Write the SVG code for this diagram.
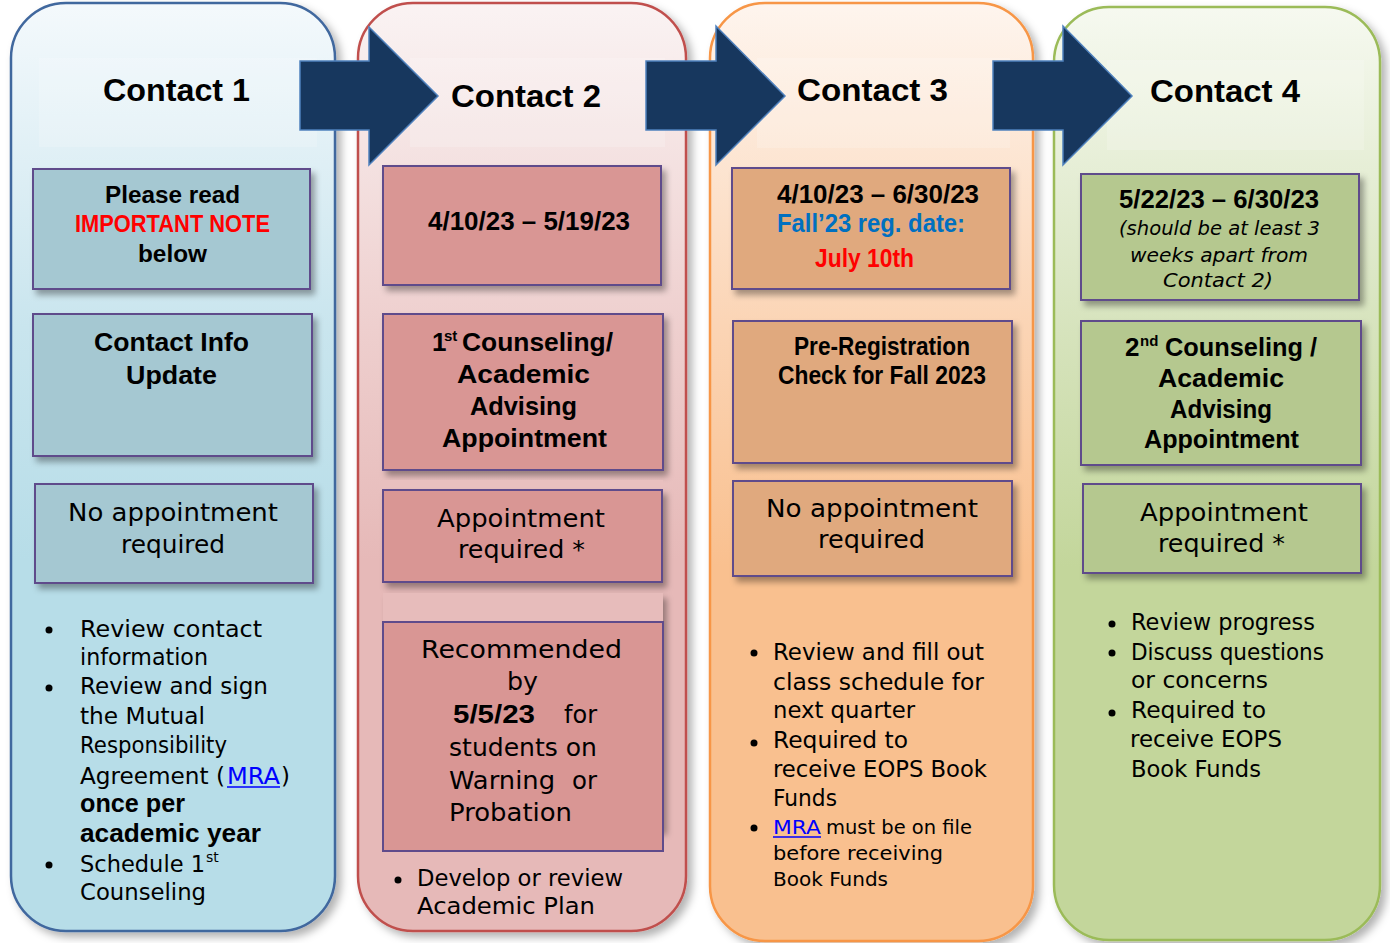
<svg xmlns="http://www.w3.org/2000/svg" width="1390" height="943" viewBox="0 0 1390 943">
<defs>
<linearGradient id="g1" x1="0" y1="0" x2="0" y2="1"><stop offset="0" stop-color="#f4f9fc"/><stop offset="0.35" stop-color="#c9e5ee"/><stop offset="0.6" stop-color="#b7dde8"/></linearGradient>
<linearGradient id="g2" x1="0" y1="0" x2="0" y2="1"><stop offset="0" stop-color="#faf3f3"/><stop offset="0.35" stop-color="#eecfce"/><stop offset="0.6" stop-color="#e6b9b8"/></linearGradient>
<linearGradient id="g3" x1="0" y1="0" x2="0" y2="1"><stop offset="0" stop-color="#fef5ee"/><stop offset="0.35" stop-color="#fbd4b4"/><stop offset="0.6" stop-color="#f9c08f"/></linearGradient>
<linearGradient id="g4" x1="0" y1="0" x2="0" y2="1"><stop offset="0" stop-color="#f6f9f0"/><stop offset="0.35" stop-color="#d6e3bc"/><stop offset="0.6" stop-color="#c3d69b"/></linearGradient>
<filter id="sh" x="-10%" y="-10%" width="130%" height="130%"><feDropShadow dx="4" dy="5" stdDeviation="3" flood-color="#000" flood-opacity="0.35"/></filter>
<filter id="csh" x="-10%" y="-5%" width="130%" height="115%"><feDropShadow dx="5" dy="5" stdDeviation="4" flood-color="#000" flood-opacity="0.3"/></filter>
</defs>
<style>
.b{font-family:"Liberation Sans",Arial,sans-serif;font-weight:bold;fill:#000}
.r{font-family:"DejaVu Sans","Liberation Sans",sans-serif;fill:#000}
.h{font-size:32px}
.bx{stroke:#5f4b8b;stroke-width:2}
.c1{fill:#a5c8d2}.c2{fill:#d99694}.c3{fill:#e0a97e}.c4{fill:#b5c88f}
.band{fill:#ffffff;opacity:0.18}
.arrow{fill:#17375e;stroke:#4f81bd;stroke-width:1.5}
.link{fill:#0000ff}
</style>

<g id="column1">
<rect x="11" y="3" width="324" height="928" rx="55" fill="url(#g1)" stroke="#41679e" stroke-width="2.5" filter="url(#csh)"/>
<rect class="band" x="39" y="58" width="278" height="89"/>
<text class="b h" x="103" y="101" textLength="147" lengthAdjust="spacingAndGlyphs">Contact 1</text>
</g>
<g id="column2">
<rect x="358" y="3" width="328" height="928" rx="55" fill="url(#g2)" stroke="#c0504d" stroke-width="2.5" filter="url(#csh)"/>
<rect class="band" x="410" y="58" width="255" height="89"/>
<text class="b h" x="451" y="107" textLength="150" lengthAdjust="spacingAndGlyphs">Contact 2</text>
</g>
<g id="column3">
<rect x="710" y="3" width="323" height="938" rx="55" fill="url(#g3)" stroke="#f79646" stroke-width="2.5" filter="url(#csh)"/>
<rect class="band" x="757" y="58" width="253" height="90"/>
<text class="b h" x="797" y="101" textLength="151" lengthAdjust="spacingAndGlyphs">Contact 3</text>
</g>
<g id="column4">
<rect x="1054" y="7" width="326" height="933" rx="55" fill="url(#g4)" stroke="#9bbb59" stroke-width="2.5" filter="url(#csh)"/>
<rect class="band" x="1107" y="60" width="257" height="90"/>
<text class="b h" x="1150" y="102" textLength="150" lengthAdjust="spacingAndGlyphs">Contact 4</text>
</g>

<g id="connectors">
<path class="arrow" d="M300,61 H369 V27 L438,96 L369,165 V130 H300 Z"/>
<path class="arrow" d="M646,61 H716 V26 L785,96 L716,165 V130 H646 Z"/>
<path class="arrow" d="M993,61 H1063 V26 L1132,96 L1063,165 V130 H993 Z"/>
</g>

<!-- Column 1 nodes -->
<g id="c1-dates">
<rect class="bx c1" x="33" y="169" width="277" height="120" filter="url(#sh)"/>
<text class="b" font-size="24" x="105" y="203" textLength="135" lengthAdjust="spacingAndGlyphs">Please read</text>
<text class="b" font-size="24" x="75" y="232" textLength="195" lengthAdjust="spacingAndGlyphs" style="fill:#ff0000">IMPORTANT NOTE</text>
<text class="b" font-size="24" x="138" y="262" textLength="69" lengthAdjust="spacingAndGlyphs">below</text>
</g>
<g id="c1-title">
<rect class="bx c1" x="33" y="314" width="279" height="142" filter="url(#sh)"/>
<text class="b" font-size="26" x="94" y="351" textLength="155" lengthAdjust="spacingAndGlyphs">Contact Info</text>
<text class="b" font-size="26" x="126" y="384" textLength="91" lengthAdjust="spacingAndGlyphs">Update</text>
</g>
<g id="c1-appt">
<rect class="bx c1" x="35" y="484" width="278" height="99" filter="url(#sh)"/>
<text class="r" font-size="24" x="68" y="521" textLength="210" lengthAdjust="spacingAndGlyphs">No appointment</text>
<text class="r" font-size="24" x="121" y="553" textLength="104" lengthAdjust="spacingAndGlyphs">required</text>
</g>
<g id="c1-notes">
<circle cx="49" cy="630" r="3.5"/><circle cx="49" cy="688" r="3.5"/><circle cx="49" cy="865" r="3.5"/>
<text class="r" font-size="23" x="80" y="637" textLength="182" lengthAdjust="spacingAndGlyphs">Review contact</text>
<text class="r" font-size="23" x="80" y="665" textLength="128" lengthAdjust="spacingAndGlyphs">information</text>
<text class="r" font-size="23" x="80" y="694" textLength="188" lengthAdjust="spacingAndGlyphs">Review and sign</text>
<text class="r" font-size="23" x="80" y="724" textLength="125" lengthAdjust="spacingAndGlyphs">the Mutual</text>
<text class="r" font-size="23" x="80" y="753" textLength="147" lengthAdjust="spacingAndGlyphs">Responsibility</text>
<text class="r" font-size="23" x="80" y="784" textLength="145" lengthAdjust="spacingAndGlyphs">Agreement (</text>
<text class="r link" font-size="23" x="227" y="784" textLength="53" lengthAdjust="spacingAndGlyphs">MRA</text>
<line x1="227" y1="787" x2="280" y2="787" stroke="#0000ff" stroke-width="1.5"/>
<text class="r" font-size="23" x="281" y="784">)</text>
<text class="b" font-size="25" x="80" y="812" textLength="105" lengthAdjust="spacingAndGlyphs">once per</text>
<text class="b" font-size="25" x="80" y="842" textLength="181" lengthAdjust="spacingAndGlyphs">academic year</text>
<text class="r" font-size="23" x="80" y="872" textLength="125" lengthAdjust="spacingAndGlyphs">Schedule 1</text>
<text class="r" font-size="14" x="206" y="862">st</text>
<text class="r" font-size="23" x="80" y="900" textLength="126" lengthAdjust="spacingAndGlyphs">Counseling</text>
</g>

<!-- Column 2 nodes -->
<g id="c2-dates">
<rect class="bx c2" x="383" y="166" width="278" height="119" filter="url(#sh)"/>
<text class="b" font-size="25" x="428" y="230" textLength="202" lengthAdjust="spacingAndGlyphs">4/10/23 – 5/19/23</text>
</g>
<g id="c2-title">
<rect class="bx c2" x="383" y="314" width="280" height="156" filter="url(#sh)"/>
<text class="b" font-size="26" x="432" y="351">1</text>
<text class="b" font-size="15" x="444" y="341">st</text>
<text class="b" font-size="26" x="462" y="351" textLength="151" lengthAdjust="spacingAndGlyphs">Counseling/</text>
<text class="b" font-size="26" x="457" y="383" textLength="133" lengthAdjust="spacingAndGlyphs">Academic</text>
<text class="b" font-size="26" x="470" y="415" textLength="107" lengthAdjust="spacingAndGlyphs">Advising</text>
<text class="b" font-size="26" x="442" y="447" textLength="165" lengthAdjust="spacingAndGlyphs">Appointment</text>
</g>
<g id="c2-appt">
<rect x="383" y="480" width="280" height="10" fill="#e9c0bf"/>
<rect class="bx c2" x="383" y="490" width="279" height="92" filter="url(#sh)"/>
<text class="r" font-size="24" x="437" y="527" textLength="168" lengthAdjust="spacingAndGlyphs">Appointment</text>
<text class="r" font-size="24" x="458" y="558" textLength="127" lengthAdjust="spacingAndGlyphs">required *</text>
</g>
<g id="c2-recommended">
<rect x="383" y="593" width="280" height="237" fill="#e7bcbb" filter="url(#sh)"/>
<rect class="bx c2" x="383" y="622" width="280" height="229"/>
<text class="r" font-size="24" x="421" y="658" textLength="201" lengthAdjust="spacingAndGlyphs">Recommended</text>
<text class="r" font-size="24" x="507" y="690" textLength="31" lengthAdjust="spacingAndGlyphs">by</text>
<text class="b" font-size="26" x="453" y="723" textLength="82" lengthAdjust="spacingAndGlyphs">5/5/23</text>
<text class="r" font-size="24" x="564" y="723" textLength="33" lengthAdjust="spacingAndGlyphs">for</text>
<text class="r" font-size="24" x="449" y="756" textLength="148" lengthAdjust="spacingAndGlyphs">students on</text>
<text class="r" font-size="24" x="449" y="789" textLength="106" lengthAdjust="spacingAndGlyphs">Warning</text>
<text class="r" font-size="24" x="572" y="789" textLength="25" lengthAdjust="spacingAndGlyphs">or</text>
<text class="r" font-size="24" x="449" y="821" textLength="123" lengthAdjust="spacingAndGlyphs">Probation</text>
</g>
<g id="c2-notes">
<circle cx="398" cy="880" r="3.5"/>
<text class="r" font-size="23" x="417" y="886" textLength="206" lengthAdjust="spacingAndGlyphs">Develop or review</text>
<text class="r" font-size="23" x="417" y="914" textLength="178" lengthAdjust="spacingAndGlyphs">Academic Plan</text>
</g>

<!-- Column 3 nodes -->
<g id="c3-dates">
<rect class="bx c3" x="732" y="168" width="278" height="121" filter="url(#sh)"/>
<text class="b" font-size="25" x="777" y="203" textLength="202" lengthAdjust="spacingAndGlyphs">4/10/23 – 6/30/23</text>
<text class="b" font-size="25" x="777" y="232" textLength="188" lengthAdjust="spacingAndGlyphs" style="fill:#0070c0">Fall’23 reg. date:</text>
<text class="b" font-size="25" x="815" y="267" textLength="99" lengthAdjust="spacingAndGlyphs" style="fill:#ff0000">July 10th</text>
</g>
<g id="c3-title">
<rect class="bx c3" x="733" y="321" width="279" height="142" filter="url(#sh)"/>
<text class="b" font-size="25" x="794" y="355" textLength="176" lengthAdjust="spacingAndGlyphs">Pre-Registration</text>
<text class="b" font-size="25" x="778" y="384" textLength="208" lengthAdjust="spacingAndGlyphs">Check for Fall 2023</text>
</g>
<g id="c3-appt">
<rect class="bx c3" x="733" y="481" width="279" height="95" filter="url(#sh)"/>
<text class="r" font-size="24" x="766" y="517" textLength="212" lengthAdjust="spacingAndGlyphs">No appointment</text>
<text class="r" font-size="24" x="818" y="548" textLength="107" lengthAdjust="spacingAndGlyphs">required</text>
</g>
<g id="c3-notes">
<circle cx="754" cy="653" r="3.5"/><circle cx="754" cy="743" r="3.5"/><circle cx="754" cy="828" r="3.5"/>
<text class="r" font-size="23" x="773" y="660" textLength="211" lengthAdjust="spacingAndGlyphs">Review and fill out</text>
<text class="r" font-size="23" x="773" y="690" textLength="211" lengthAdjust="spacingAndGlyphs">class  schedule  for</text>
<text class="r" font-size="23" x="773" y="718" textLength="142" lengthAdjust="spacingAndGlyphs">next quarter</text>
<text class="r" font-size="23" x="773" y="748" textLength="135" lengthAdjust="spacingAndGlyphs">Required to</text>
<text class="r" font-size="23" x="773" y="777" textLength="214" lengthAdjust="spacingAndGlyphs">receive EOPS Book</text>
<text class="r" font-size="23" x="773" y="806" textLength="64" lengthAdjust="spacingAndGlyphs">Funds</text>
<text class="r link" font-size="20" x="773" y="834" textLength="48" lengthAdjust="spacingAndGlyphs">MRA</text>
<line x1="773" y1="837" x2="821" y2="837" stroke="#0000ff" stroke-width="1.5"/>
<text class="r" font-size="20" x="826" y="834" textLength="146" lengthAdjust="spacingAndGlyphs">must be on file</text>
<text class="r" font-size="20" x="773" y="860" textLength="170" lengthAdjust="spacingAndGlyphs">before receiving</text>
<text class="r" font-size="20" x="773" y="886" textLength="115" lengthAdjust="spacingAndGlyphs">Book Funds</text>
</g>

<!-- Column 4 nodes -->
<g id="c4-dates">
<rect class="bx c4" x="1081" y="174" width="278" height="126" filter="url(#sh)"/>
<text class="b" font-size="25" x="1119" y="208" textLength="200" lengthAdjust="spacingAndGlyphs">5/22/23 – 6/30/23</text>
<text class="r" font-size="20" font-style="italic" x="1119" y="235" textLength="201" lengthAdjust="spacingAndGlyphs">(should be at least 3</text>
<text class="r" font-size="20" font-style="italic" x="1130" y="262" textLength="178" lengthAdjust="spacingAndGlyphs">weeks apart from</text>
<text class="r" font-size="20" font-style="italic" x="1163" y="287" textLength="110" lengthAdjust="spacingAndGlyphs">Contact 2)</text>
</g>
<g id="c4-title">
<rect class="bx c4" x="1081" y="321" width="280" height="144" filter="url(#sh)"/>
<text class="b" font-size="26" x="1125" y="356">2</text>
<text class="b" font-size="15" x="1140" y="346">nd</text>
<text class="b" font-size="26" x="1165" y="356" textLength="152" lengthAdjust="spacingAndGlyphs">Counseling /</text>
<text class="b" font-size="26" x="1158" y="387" textLength="126" lengthAdjust="spacingAndGlyphs">Academic</text>
<text class="b" font-size="26" x="1170" y="418" textLength="102" lengthAdjust="spacingAndGlyphs">Advising</text>
<text class="b" font-size="26" x="1144" y="448" textLength="155" lengthAdjust="spacingAndGlyphs">Appointment</text>
</g>
<g id="c4-appt">
<rect class="bx c4" x="1083" y="484" width="278" height="89" filter="url(#sh)"/>
<text class="r" font-size="24" x="1140" y="521" textLength="168" lengthAdjust="spacingAndGlyphs">Appointment</text>
<text class="r" font-size="24" x="1158" y="552" textLength="127" lengthAdjust="spacingAndGlyphs">required *</text>
</g>
<g id="c4-notes">
<circle cx="1112" cy="624" r="3.5"/><circle cx="1112" cy="653" r="3.5"/><circle cx="1112" cy="713" r="3.5"/>
<text class="r" font-size="23" x="1131" y="630" textLength="184" lengthAdjust="spacingAndGlyphs">Review progress</text>
<text class="r" font-size="23" x="1131" y="660" textLength="193" lengthAdjust="spacingAndGlyphs">Discuss questions</text>
<text class="r" font-size="23" x="1131" y="688" textLength="137" lengthAdjust="spacingAndGlyphs">or concerns</text>
<text class="r" font-size="23" x="1131" y="718" textLength="135" lengthAdjust="spacingAndGlyphs">Required to</text>
<text class="r" font-size="23" x="1130" y="747" textLength="152" lengthAdjust="spacingAndGlyphs">receive EOPS</text>
<text class="r" font-size="23" x="1131" y="777" textLength="130" lengthAdjust="spacingAndGlyphs">Book Funds</text>
</g>
</svg>
